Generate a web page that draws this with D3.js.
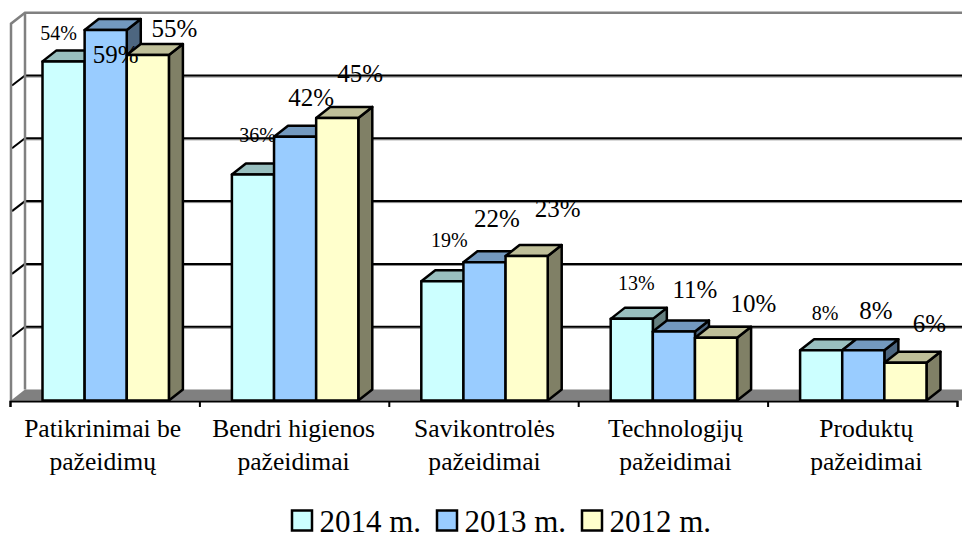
<!DOCTYPE html>
<html>
<head>
<meta charset="utf-8">
<script src="https://cdn.jsdelivr.net/npm/d3@7"></script>
<style>
html, body { margin: 0; padding: 0; background: #fff; overflow: hidden; }
svg { display: block; }
text { font-family: "Liberation Serif", serif; fill: #000; }
</style>
</head>
<body>
<svg id="graphique" width="962" height="533"></svg>
<script>
// donnees
const categories = [
    ["Patikrinimai be", "pažeidimų"],
    ["Bendri higienos", "pažeidimai"],
    ["Savikontrolės", "pažeidimai"],
    ["Technologijų", "pažeidimai"],
    ["Produktų", "pažeidimai"]
];
const years = ["2014 m.", "2013 m.", "2012 m."];
const values2014 = [54, 36, 19, 13, 8];
const values2013 = [59, 42, 22, 11, 8];
const values2012 = [55, 45, 23, 10, 6];
const series = [values2014, values2013, values2012];
const yTicks = [0, 10, 20, 30, 40, 50, 60];

// couleurs : face, dessus, cote
const front = ["#CCFFFF", "#99CCFF", "#FFFFCC"];
const top3d = ["#99BFBF", "#7399BF", "#BFBF99"];
const side = ["#668080", "#4D6680", "#808066"];

// les etiquettes sont placees a la main par rapport au haut de la barre (comme dans l'original)
const labelDx = [[-5, 10, 26.5], [4.5, 16, 23], [7, 12.5, 31], [4.5, 21, 37.5], [4, 12.5, 24]];
const labelDy = [[-21, 33, -18], [-32, -31, -36], [-34, -35, -39], [-29, -33, -26], [-30, -31, -31]];
const labelSize = [20, 25, 25];

const svg = d3.select("#graphique");

const depthX = 14, depthY = -11;
const plotLeft = 11, plotRight = 957, baseY = 400.5;
const barStroke = 2.5;

const x = d3.scaleBand().domain(d3.range(categories.length)).range([plotLeft, plotRight + 1]);
const y = d3.scaleLinear().domain([0, 60]).range([baseY, baseY - 376.8]);
const inner = d3.scaleBand().domain(d3.range(3)).range([31.5, x.bandwidth() - 31.5]);

// sol et murs
const wallBack = y(0) + depthY;
svg.append("polygon")
    .attr("points", [[plotLeft, baseY], [plotLeft + depthX, wallBack], [962, wallBack], [962, baseY]].join(" "))
    .attr("fill", "#808080");

// lignes de grille
yTicks.slice(1, -1).forEach(t => {
    const py = y(t);
    svg.append("line")
        .attr("x1", plotLeft + depthX).attr("x2", 962)
        .attr("y1", py + depthY + 1.5).attr("y2", py + depthY + 1.5)
        .attr("stroke", "#808080").attr("stroke-width", 1);
    svg.append("line")
        .attr("x1", plotLeft + depthX).attr("x2", 962)
        .attr("y1", py + depthY).attr("y2", py + depthY)
        .attr("stroke", "#000").attr("stroke-width", 2);
    svg.append("line")
        .attr("x1", plotLeft + 1).attr("x2", plotLeft + depthX)
        .attr("y1", py - 1).attr("y2", py + depthY)
        .attr("stroke", "#000").attr("stroke-width", 2);
});

// cadre gris
const topFront = y(60), topBack = y(60) + depthY;
svg.append("path")
    .attr("d", `M${plotLeft},${baseY} L${plotLeft},${topFront} L${plotLeft + depthX},${topBack} L962,${topBack}`)
    .attr("fill", "none").attr("stroke", "#808080").attr("stroke-width", 2.5);
svg.append("path")
    .attr("d", `M${plotLeft + depthX},${topBack} L${plotLeft + depthX},${wallBack}`)
    .attr("fill", "none").attr("stroke", "#808080").attr("stroke-width", 2.5);

// barres
categories.forEach((c, i) => {
    series.forEach((s, j) => {
        const x0 = x(i) + inner(j);
        const w = inner.bandwidth();
        const y0 = y(s[i]);
        const g = svg.append("g").attr("stroke", "#000").attr("stroke-width", barStroke).attr("stroke-linejoin", "round");
        g.append("polygon")
            .attr("points", [[x0 + w, y0], [x0 + w + depthX, y0 + depthY], [x0 + w + depthX, baseY + depthY], [x0 + w, baseY]].join(" "))
            .attr("fill", side[j]);
        g.append("polygon")
            .attr("points", [[x0, y0], [x0 + depthX, y0 + depthY], [x0 + w + depthX, y0 + depthY], [x0 + w, y0]].join(" "))
            .attr("fill", top3d[j]);
        g.append("rect")
            .attr("x", x0).attr("y", y0)
            .attr("width", w).attr("height", baseY - y0)
            .attr("fill", front[j]);
    });
});

// axe du bas
const axisX = d3.scaleLinear().domain([0, categories.length]).range([plotLeft - 1, plotRight]);
const axis = svg.append("g")
    .attr("transform", `translate(0,${baseY + 0.5})`)
    .call(d3.axisBottom(axisX).ticks(categories.length).tickSize(6).tickFormat(""));
axis.selectAll("line, path").attr("stroke", "#000").attr("stroke-width", 2);

// noms des categories
categories.forEach((c, i) => {
    c.forEach((line, k) => {
        svg.append("text")
            .attr("x", x(i) + x.bandwidth() / 2 - 3 + i * 1.5)
            .attr("y", 437 + k * 33)
            .attr("text-anchor", "middle")
            .attr("font-size", 25.6)
            .text(line);
    });
});

// etiquettes de valeurs
categories.forEach((c, i) => {
    series.forEach((s, j) => {
        svg.append("text")
            .attr("x", x(i) + inner(j) + inner.bandwidth() / 2 + labelDx[i][j])
            .attr("y", y(s[i]) + labelDy[i][j])
            .attr("text-anchor", "middle")
            .attr("font-size", labelSize[j])
            .text(s[i] + "%");
    });
});

// legende
const legendX = d3.scalePoint().domain(years).range([292, 582]);
years.forEach((name, j) => {
    svg.append("rect")
        .attr("x", legendX(name)).attr("y", 510.5)
        .attr("width", 20).attr("height", 20)
        .attr("fill", front[j]).attr("stroke", "#000").attr("stroke-width", 2.5);
    svg.append("text")
        .attr("x", legendX(name) + 27.5).attr("y", 532)
        .attr("font-size", 31)
        .text(name);
});
</script>
</body>
</html>
